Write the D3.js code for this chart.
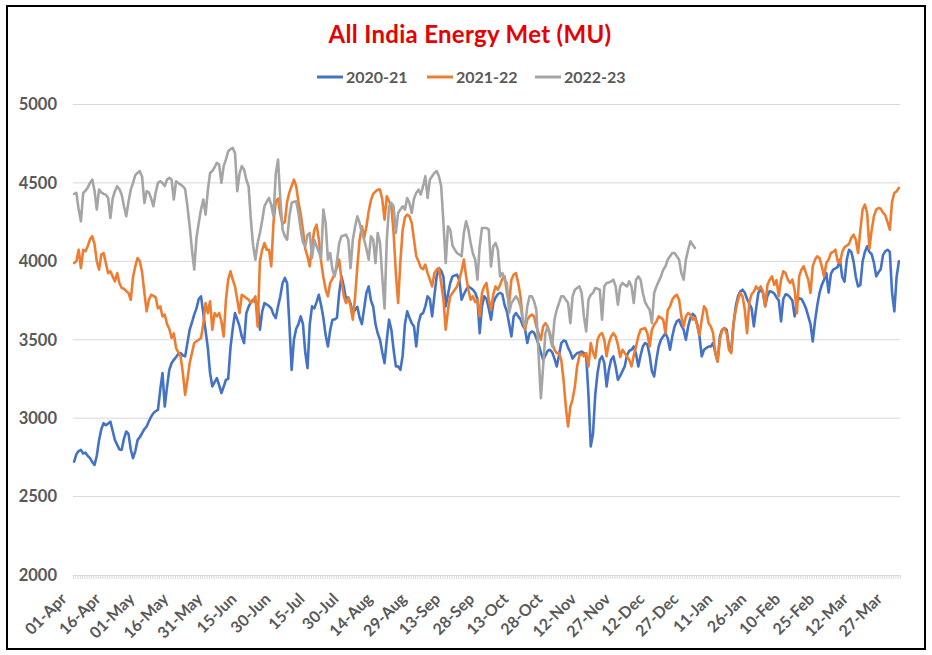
<!DOCTYPE html>
<html><head><meta charset="utf-8">
<script src="https://cdn.jsdelivr.net/npm/d3@7"></script>
<style>
html,body{margin:0;padding:0;background:#fff;}
svg{display:block;}
text{font-family:Lato,"Open Sans",sans-serif;}
</style></head><body>
<svg id="chart" width="932" height="655"></svg>
<script>
const chartTitle = "All India Energy Met (MU)";
const seriesNames = ["2020-21", "2021-22", "2022-23"];
const seriesColors = ["#4472C4", "#ED7D31", "#A5A5A5"];
const yTicks = [2000, 2500, 3000, 3500, 4000, 4500, 5000];
const xTickLabels = ["01-Apr","16-Apr","01-May","16-May","31-May","15-Jun","30-Jun","15-Jul","30-Jul","14-Aug","29-Aug","13-Sep","28-Sep","13-Oct","28-Oct","12-Nov","27-Nov","12-Dec","27-Dec","11-Jan","26-Jan","10-Feb","25-Feb","12-Mar","27-Mar"];
const dayCount = 365;
const labelEvery = 15;

const values2020 = [
2723,2770,2790,2798,2775,2780,2760,2745,2720,2702,
2760,2860,2930,2968,2955,2965,2978,2920,2861,2830,
2800,2798,2870,2915,2900,2800,2745,2790,2860,2880,
2904,2930,2947,2980,3010,3032,3045,3053,3180,3287,
3074,3200,3308,3350,3372,3390,3410,3415,3400,3394,
3480,3564,3610,3660,3700,3760,3777,3670,3560,3450,
3287,3202,3230,3255,3210,3160,3200,3245,3250,3450,
3570,3670,3630,3585,3520,3479,3670,3710,3740,3755,
3740,3734,3564,3680,3734,3725,3715,3700,3660,3638,
3713,3777,3862,3894,3862,3600,3308,3500,3570,3600,
3649,3600,3420,3319,3600,3713,3700,3740,3787,3720,
3640,3530,3457,3560,3628,3630,3640,3800,3904,3840,
3760,3770,3730,3670,3690,3710,3640,3600,3700,3800,
3840,3750,3710,3600,3540,3500,3420,3351,3500,3628,
3564,3436,3330,3330,3308,3400,3600,3681,3640,3606,
3585,3457,3606,3660,3670,3713,3777,3760,3649,3780,
3904,3957,3940,3900,3713,3790,3862,3904,3910,3915,
3880,3755,3790,3819,3840,3830,3819,3800,3760,3542,
3713,3777,3760,3700,3628,3734,3770,3790,3800,3790,
3720,3680,3600,3521,3650,3670,3649,3630,3590,3570,
3479,3540,3553,3545,3510,3470,3420,3372,3400,3430,
3436,3420,3380,3330,3400,3479,3495,3490,3450,3420,
3380,3400,3415,3418,3425,3415,3394,3150,2819,2900,
3150,3287,3372,3394,3351,3202,3308,3372,3394,3330,
3245,3270,3300,3330,3400,3430,3436,3457,3410,3330,
3400,3457,3479,3470,3400,3300,3266,3372,3457,3500,
3521,3542,3510,3436,3521,3585,3617,3628,3590,3564,
3500,3585,3640,3665,3650,3600,3521,3394,3436,3447,
3457,3457,3479,3415,3362,3521,3564,3574,3564,3457,
3425,3600,3713,3777,3808,3819,3800,3760,3730,3700,
3585,3700,3800,3819,3800,3713,3780,3810,3805,3795,
3770,3750,3617,3760,3790,3785,3770,3750,3649,3740,
3765,3760,3734,3700,3650,3600,3489,3620,3720,3800,
3850,3883,3925,3800,3920,3947,3955,3965,4011,3900,
3870,4010,4074,4060,4000,3900,3840,3850,4000,4060,
4096,4060,4045,3990,3904,3930,3950,4040,4064,4074,
4060,3800,3681,3900,4000];

const values2021 = [
3989,4000,4074,3957,4074,4064,4096,4140,4160,4110,
4000,3947,4043,4053,3989,3925,3936,3904,3872,3925,
3860,3830,3825,3810,3798,3755,3900,3968,4021,4000,
3930,3800,3681,3755,3787,3780,3770,3700,3713,3649,
3660,3600,3570,3511,3540,3447,3420,3394,3287,3149,
3245,3351,3415,3479,3490,3500,3511,3600,3734,3670,
3745,3564,3670,3649,3670,3617,3521,3755,3883,3936,
3883,3840,3755,3670,3787,3777,3766,3755,3734,3750,
3777,3585,4000,4074,4117,4074,4074,3968,4250,4380,
4400,4300,4240,4250,4380,4440,4480,4521,4480,4380,
4300,4200,4080,4032,3968,4100,4200,4234,4140,4000,
3900,3820,3777,3862,3890,3920,3960,4011,3880,3780,
3734,3766,3713,3628,3770,3968,4138,4223,4150,4220,
4320,4390,4430,4445,4457,4457,4394,4266,4415,4383,
4351,4181,3925,3734,4000,4200,4280,4298,4287,4245,
4138,4032,4000,3960,3950,3979,3925,3883,3840,3925,
3947,3957,3862,3755,3564,3691,3777,3798,3819,3840,
3883,3940,4011,3904,3819,3755,3777,3740,3755,3649,
3798,3840,3862,3755,3691,3790,3840,3819,3850,3890,
3904,3800,3734,3883,3915,3925,3862,3777,3628,3564,
3628,3649,3660,3649,3585,3542,3500,3585,3606,3585,
3542,3479,3436,3415,3415,3372,3245,3074,2947,3074,
3120,3200,3330,3400,3410,3394,3415,3330,3479,3420,
3383,3500,3532,3542,3500,3394,3479,3521,3542,3521,
3468,3390,3436,3415,3394,3372,3330,3400,3457,3521,
3564,3570,3574,3542,3457,3564,3596,3617,3649,3640,
3628,3542,3690,3713,3755,3777,3787,3755,3649,3585,
3649,3670,3660,3628,3640,3590,3530,3628,3713,3691,
3606,3585,3542,3415,3362,3500,3564,3574,3542,3436,
3415,3600,3690,3755,3798,3777,3691,3542,3740,3790,
3808,3840,3820,3840,3808,3713,3850,3883,3904,3850,
3880,3777,3883,3936,3925,3883,3862,3883,3819,3670,
3904,3947,3968,3925,3883,3798,3968,4011,4032,4021,
3968,3904,3989,4011,4053,4060,4074,4000,3990,4060,
4090,4100,4110,4150,4170,4138,4053,4200,4330,4362,
4308,4080,4200,4287,4330,4340,4335,4310,4295,4250,
4202,4380,4436,4447,4468];

const values2022 = [
4430,4436,4330,4255,4436,4450,4470,4500,4521,4450,
4330,4457,4440,4430,4425,4404,4276,4400,4447,4479,
4460,4425,4351,4287,4380,4457,4500,4550,4564,4575,
4540,4372,4447,4440,4400,4351,4440,4500,4510,4500,
4480,4521,4532,4521,4394,4511,4500,4489,4479,4460,
4351,4223,4074,3947,4150,4245,4330,4394,4298,4450,
4564,4575,4600,4628,4617,4500,4607,4650,4702,4715,
4723,4691,4447,4560,4607,4585,4520,4479,4266,4100,
4011,4117,4181,4260,4351,4380,4404,4360,4287,4560,
4649,4394,4202,4160,4138,4287,4372,4380,4383,4308,
4202,4120,4096,4170,4181,4021,4138,4096,4060,4021,
4330,4245,4011,4053,3947,3904,4000,4117,4160,4165,
4170,4138,3957,4138,4220,4287,4245,4181,4138,4080,
4011,4160,4138,3989,4181,4117,3900,3700,4138,4351,
4372,4351,4181,4308,4330,4351,4330,4404,4372,4308,
4400,4436,4457,4425,4479,4543,4404,4520,4543,4564,
4575,4543,4479,4245,3989,4223,4202,4100,4074,4053,
4043,4032,4181,4255,4202,4117,4050,4011,3883,4096,
4213,4213,4213,4202,3968,4096,4117,4074,3904,3925,
3883,3862,3670,3734,3755,3777,3755,3713,3628,3585,
3713,3777,3777,3745,3691,3400,3128,3330,3542,3585,
3521,3457,3628,3691,3734,3777,3777,3755,3734,3606,
3777,3819,3830,3840,3798,3649,3553,3755,3787,3798,
3830,3825,3819,3628,3840,3862,3865,3872,3883,3840,
3723,3840,3862,3850,3840,3872,3840,3734,3883,3904,
3883,3798,3740,3713,3691,3606,3798,3840,3872,3904,
3947,3968,4011,4032,4053,4053,4032,4011,3925,3883,
4011,4074,4128,4106,4085];

const plot = {left: 73, right: 900, top: 104.5, bottom: 575};
const svg = d3.select("#chart");

svg.append("rect").attr("x", 7).attr("y", 6).attr("width", 918).attr("height", 643)
  .attr("fill", "#fff").attr("stroke", "#000").attr("stroke-width", 2);

const x = d3.scalePoint().domain(d3.range(dayCount)).range([plot.left, plot.right]).padding(0.5);
const y = d3.scaleLinear().domain([2000, 5000]).range([plot.bottom, plot.top]);

// gridlines
svg.append("g").selectAll("line").data(yTicks.filter(t => t > 2000)).join("line")
  .attr("x1", plot.left).attr("x2", plot.right)
  .attr("y1", d => y(d)).attr("y2", d => y(d))
  .attr("stroke", "#d9d9d9").attr("stroke-width", 1);

// y axis labels
const yAxis = d3.axisLeft(y).tickValues(yTicks).tickSize(0).tickPadding(0).tickFormat(d3.format("d"));
const gy = svg.append("g").attr("transform", `translate(57,0)`).call(yAxis);
gy.select(".domain").remove();
gy.selectAll("text").attr("font-size", 16.5).attr("font-weight", 700).attr("fill", "#595959")
  .attr("font-family", "Lato, 'Open Sans', sans-serif");

// x axis category tick marks
const band = (plot.right - plot.left) / dayCount;
const xTickAxis = d3.axisBottom(x).tickValues(d3.range(dayCount)).tickSize(4).tickFormat("");
const gxt = svg.append("g").attr("transform", `translate(0,${plot.bottom})`).call(xTickAxis);
gxt.select(".domain").attr("stroke", "#d9d9d9");
gxt.selectAll(".tick line").attr("stroke", "#d9d9d9").attr("transform", `translate(${-band/2},0)`);

// x axis labels
const labelIdx = d3.range(0, dayCount, labelEvery);
const xLabelAxis = d3.axisBottom(x).tickValues(labelIdx).tickSize(0)
  .tickFormat((d, i) => xTickLabels[i]);
const gxl = svg.append("g").attr("transform", `translate(0,${plot.bottom})`).call(xLabelAxis);
gxl.select(".domain").remove();
gxl.selectAll("text")
  .attr("font-size", 16).attr("font-weight", 700).attr("fill", "#595959")
  .attr("font-family", "Lato, 'Open Sans', sans-serif")
  .attr("text-anchor", "end").attr("dy", null).attr("y", 0)
  .attr("transform", "translate(-7,25) rotate(-45)");

// lines
const seriesData = [values2020, values2021, values2022];
const line = d3.line().x((d, i) => x(i)).y(d => y(d));
svg.append("g").selectAll("path").data(seriesData).join("path")
  .attr("d", d => line(d))
  .attr("fill", "none")
  .attr("stroke", (d, i) => seriesColors[i])
  .attr("stroke-width", 2.6)
  .attr("stroke-linejoin", "round").attr("stroke-linecap", "round");

// title
svg.append("text").attr("x", 470).attr("y", 43).attr("text-anchor", "middle")
  .attr("font-size", 24).attr("font-weight", 700).attr("fill", "#e60000")
  .attr("letter-spacing", 0.3)
  .text(chartTitle);

// legend
const legendX = [317, 427, 535];
const lg = svg.append("g").selectAll("g").data(seriesNames).join("g")
  .attr("transform", (d, i) => `translate(${legendX[i]},77)`);
lg.append("line").attr("x1", 0).attr("x2", 26).attr("y1", 0).attr("y2", 0)
  .attr("stroke", (d, i) => seriesColors[i]).attr("stroke-width", 3);
lg.append("text").attr("x", 29).attr("y", 0).attr("dy", "0.35em")
  .attr("font-size", 16).attr("font-weight", 700).attr("fill", "#595959")
  .text(d => d);
</script>
</body></html>
